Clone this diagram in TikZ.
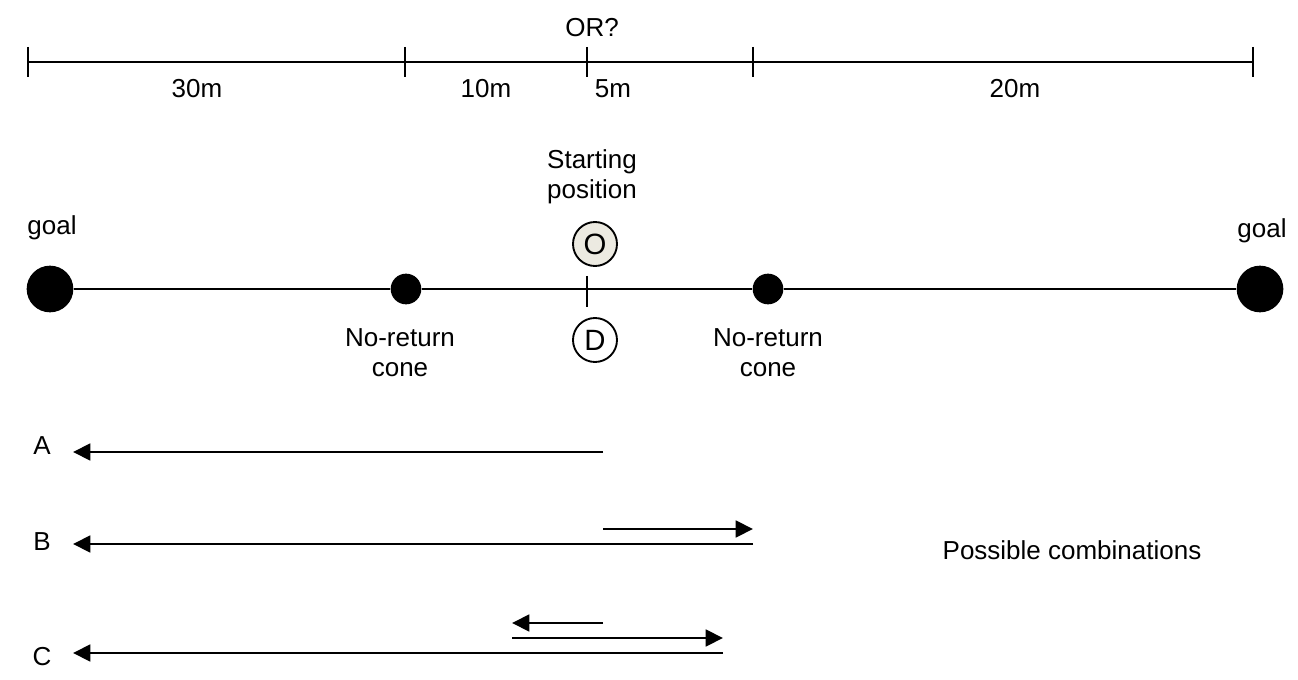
\documentclass[tikz,border=0pt]{standalone}
\usepackage{fontspec}
\setmainfont{Liberation Sans}
\usetikzlibrary{arrows.meta,calc}
\definecolor{startfill}{HTML}{ECEAE1}
\begin{document}
\begin{tikzpicture}[x=0.75pt,y=-0.75pt,
  txt/.style={font=\fontsize{19.5}{22.5}\selectfont, inner sep=0pt, align=center},
  barline/.style={line width=1.5pt},
  track/.style={line width=1.5pt},
  goaldot/.style={circle, fill=black, minimum size=35pt, inner sep=0pt},
  conedot/.style={circle, fill=black, minimum size=23pt, inner sep=0pt},
  player/.style={circle, draw=black, line width=1.4pt, minimum size=33pt, inner sep=0pt,
                 font=\fontsize{22}{24}\selectfont},
  run/.style={line width=2.1pt, -{Triangle[length=13pt,width=12.5pt]}},
]
\useasboundingbox (0,0) rectangle (1298,680);

% distance scale along the top
\coordinate (t0) at (28,62);
\coordinate (t1) at (405,62);
\coordinate (t2) at (587,62);
\coordinate (t3) at (753,62);
\coordinate (t4) at (1253,62);
\draw[barline] (t0) -- (t4);
\foreach \t in {t0,t1,t2,t3,t4}
  \draw[barline] ($(\t)+(0,-15)$) -- ($(\t)+(0,15)$);
\node[txt] (orq) at (592,28) {OR?};
\node[txt] (d30) at (197,89) {30m};
\node[txt] (d10) at (486,89) {10m};
\node[txt] (d5)  at (613,89) {5m};
\node[txt] (d20) at (1015,89) {20m};

% pitch line with goals and cones
\node[goaldot] (goalL) at (50,289) {};
\node[goaldot] (goalR) at (1260,289) {};
\node[conedot] (coneL) at (406,289) {};
\node[conedot] (coneR) at (768,289) {};
\draw[track] (goalL) -- (coneL) -- (coneR) -- (goalR);

\node[txt] (goalLlbl) at (52,228) {goal};
\node[txt] (goalRlbl) at (1262,231) {goal};
\node[txt] (coneLlbl) at (400,353) {No-return\\cone};
\node[txt] (coneRlbl) at (768,353) {No-return\\cone};

% starting position
\coordinate (stTop) at (587,276);
\coordinate (stBot) at (587,307);
\draw[track] (stTop) -- (stBot);
\node[txt] (startlbl) at (592,177) {Starting\\position};
\node[player, fill=startfill] (O) at (595,244) {O};
\node[player, fill=white] (D) at (595,340) {D};

% runs
\node[txt] (labA) at (42,446) {A};
\node[txt] (labB) at (42,542) {B};
\node[txt] (labC) at (42,657) {C};

\coordinate (a0) at (603,452);
\coordinate (a1) at (73,452);
\draw[run] (a0) -- (a1);

\coordinate (b0) at (603,529);
\coordinate (b1) at (753,529);
\coordinate (b2) at (753,544);
\coordinate (b3) at (73,544);
\draw[run] (b0) -- (b1);
\draw[run] (b2) -- (b3);

\coordinate (c0) at (603,623);
\coordinate (c1) at (512,623);
\coordinate (c2) at (512,638);
\coordinate (c3) at (723,638);
\coordinate (c4) at (723,653);
\coordinate (c5) at (73,653);
\draw[run] (c0) -- (c1);
\draw[run] (c2) -- (c3);
\draw[run] (c4) -- (c5);

\node[txt] (combo) at (1072,550) {Possible combinations};
\end{tikzpicture}
\end{document}
